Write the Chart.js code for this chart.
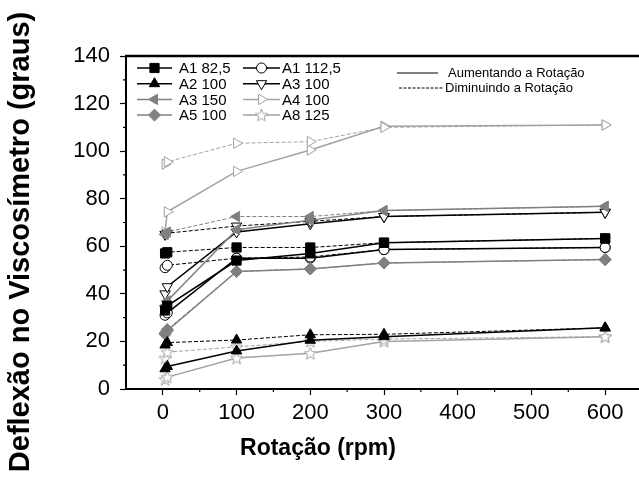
<!DOCTYPE html>
<html lang="pt">
<head>
<meta charset="utf-8">
<title>Deflexão no Viscosímetro</title>
<script src="https://cdn.jsdelivr.net/npm/chart.js@4.4.1/dist/chart.umd.min.js"></script>
<style>
  html, body { margin: 0; padding: 0; background: #fff; overflow: hidden; }
  #wrap { width: 660px; height: 478px; }
</style>
</head>
<body>
<div id="wrap"><canvas id="grafico" width="660" height="478"></canvas></div>
<script>
// Rotações do viscosímetro (rpm)
const rotacoes = [3, 6, 100, 200, 300, 600];

// Marcas dos eixos que levam texto
const ticksX = [0, 100, 200, 300, 400, 500, 600];
const ticksY = [0, 20, 40, 60, 80, 100, 120, 140];

// Leituras aumentando a rotação (linha cheia)
const a1_825_sobe = [33, 35, 54, 57, 61.5, 63.3];
const a1_1125_sobe = [31, 32, 55, 55, 58.6, 59.5];
const a2_100_sobe = [8.5, 9.5, 16, 20.5, 22, 25.7];
const a3_100_sobe = [40, 43, 66, 69.5, 72.5, 74.3];
const a3_150_sobe = [35, 37, 67, 71, 75, 76.8];
const a4_100_sobe = [66, 74.5, 91.5, 100.5, 110.5, 111];
const a5_100_sobe = [23, 24.5, 49.4, 50.5, 53, 54.4];
const a8_125_sobe = [4, 5, 13, 15, 20, 22];

// Leituras diminuindo a rotação (linha tracejada)
const a1_825_desce = [57, 57.5, 59.5, 59.5, 61.5, 63.3];
const a1_1125_desce = [51, 52, 55, 55.5, 58.6, 59.5];
const a2_100_desce = [18.5, 19.5, 20.6, 22.8, 23, 25.7];
const a3_100_desce = [65, 65.5, 68.5, 70.5, 72.5, 74.3];
const a3_150_desce = [65, 66, 72.5, 72.5, 75, 76.8];
const a4_100_desce = [94.5, 95.5, 103.3, 104, 110, 111];
const a5_100_desce = [23.5, 25, 49.4, 50.5, 53, 54.4];
const a8_125_desce = [13, 15.5, 17.7, 20, 21, 22];

// Nomes das amostras, na ordem da legenda (coluna 1 e depois coluna 2)
const amostras = ['A1 82,5', 'A2 100', 'A3 150', 'A5 100', 'A1 112,5', 'A3 100', 'A4 100', 'A8 125'];

const cinza = '#808080';
const cinzaClaro = '#a2a2a2';

// Estrela vazada de cinco pontas (o Chart.js não tem esse símbolo)
const estrela = document.createElement('canvas');
estrela.width = 15;
estrela.height = 15;
const cx = estrela.getContext('2d');
cx.beginPath();
for (let i = 0; i < 10; i++) {
    const r = i % 2 === 0 ? 6.5 : 2.8;
    const ang = -Math.PI / 2 + i * Math.PI / 5;
    const px = 7.5 + r * Math.cos(ang);
    const py = 8 + r * Math.sin(ang);
    if (i === 0) cx.moveTo(px, py); else cx.lineTo(px, py);
}
cx.closePath();
cx.fillStyle = '#fff';
cx.fill();
cx.strokeStyle = cinzaClaro;
cx.lineWidth = 1;
cx.stroke();

// Estilo de cada amostra: dados, cor da linha, símbolo
const estilos = {
    'A1 82,5':  { sobe: a1_825_sobe,  desce: a1_825_desce,  cor: '#000', fundo: '#000', simbolo: 'rect', raio: 6.5, rot: 0 },
    'A1 112,5': { sobe: a1_1125_sobe, desce: a1_1125_desce, cor: '#000', fundo: '#fff', simbolo: 'circle', raio: 5, rot: 0 },
    'A2 100':   { sobe: a2_100_sobe,  desce: a2_100_desce,  cor: '#000', fundo: '#000', simbolo: 'triangle', raio: 6, rot: 0 },
    'A3 100':   { sobe: a3_100_sobe,  desce: a3_100_desce,  cor: '#000', fundo: '#fff', simbolo: 'triangle', raio: 6, rot: 180 },
    'A3 150':   { sobe: a3_150_sobe,  desce: a3_150_desce,  cor: cinza, fundo: cinza, simbolo: 'triangle', raio: 6, rot: 270 },
    'A4 100':   { sobe: a4_100_sobe,  desce: a4_100_desce,  cor: cinzaClaro, fundo: '#fff', simbolo: 'triangle', raio: 6, rot: 90 },
    'A5 100':   { sobe: a5_100_sobe,  desce: a5_100_desce,  cor: cinza, fundo: cinza, simbolo: 'rectRot', raio: 6, rot: 0 },
    'A8 125':   { sobe: a8_125_sobe,  desce: a8_125_desce,  cor: cinzaClaro, fundo: '#fff', simbolo: estrela, raio: 6, rot: 0 }
};

// Monta um conjunto de dados (linha cheia ou tracejada)
const montaSerie = (nome, valores, tracejada) => {
    const e = estilos[nome];
    return {
        label: nome + (tracejada ? ' (diminuindo)' : ' (aumentando)'),
        data: rotacoes.map((x, i) => ({ x: x, y: valores[i] })),
        borderColor: e.cor,
        borderWidth: tracejada ? 1 : 1.5,
        borderDash: tracejada ? [4, 2] : [],
        pointStyle: e.simbolo,
        pointRadius: e.raio,
        pointRotation: e.rot,
        pointBackgroundColor: e.fundo,
        pointBorderColor: e.cor,
        pointBorderWidth: 1,
        tension: 0,
        fill: false
    };
};

const series = [];
amostras.forEach(nome => {
    series.push(montaSerie(nome, estilos[nome].desce, true));
    series.push(montaSerie(nome, estilos[nome].sobe, false));
});

const fonte = '"Liberation Sans", Arial, sans-serif';

// Plugin que desenha a borda de cima, os títulos, as marcas menores e a legenda
const decoracao = {
    id: 'decoracao',
    afterDraw: (chart) => {
        const ctx = chart.ctx;
        const area = chart.chartArea;
        const sx = chart.scales.x;
        const sy = chart.scales.y;
        ctx.save();

        // borda superior grossa
        ctx.strokeStyle = '#000';
        ctx.lineWidth = 2.5;
        ctx.beginPath();
        ctx.moveTo(area.left - 1, area.top);
        ctx.lineTo(area.right, area.top);
        ctx.stroke();

        // marcas menores (50 rpm e 10 graus)
        ctx.lineWidth = 1.2;
        ctx.beginPath();
        for (let v = 50; v <= 650; v += 100) {
            const px = sx.getPixelForValue(v);
            ctx.moveTo(px, area.bottom);
            ctx.lineTo(px, area.bottom + 3);
        }
        for (let v = 10; v <= 130; v += 20) {
            const py = sy.getPixelForValue(v);
            ctx.moveTo(area.left, py);
            ctx.lineTo(area.left - 3, py);
        }
        ctx.stroke();

        // títulos dos eixos
        ctx.fillStyle = '#000';
        ctx.textAlign = 'center';
        ctx.textBaseline = 'middle';
        ctx.font = 'bold 23px ' + fonte;
        ctx.fillText('Rotação (rpm)', 318, 449);
        ctx.save();
        ctx.translate(21, 242);
        ctx.rotate(-Math.PI / 2);
        ctx.font = 'bold 29px ' + fonte;
        ctx.fillText('Deflexão no Viscosímetro (graus)', 0, 0);
        ctx.restore();

        // legenda das amostras em duas colunas
        const colunas = [{ x0: 137, x1: 172, tx: 179 }, { x0: 243, x1: 280, tx: 282 }];
        ctx.textAlign = 'left';
        ctx.font = '15px ' + fonte;
        amostras.forEach((nome, i) => {
            const e = estilos[nome];
            const col = colunas[Math.floor(i / 4)];
            const y = 68 + (i % 4) * 15.7;
            ctx.strokeStyle = e.cor;
            ctx.lineWidth = 1.5;
            ctx.setLineDash([]);
            ctx.beginPath();
            ctx.moveTo(col.x0, y);
            ctx.lineTo(col.x1, y);
            ctx.stroke();
            ctx.fillStyle = e.fundo;
            ctx.lineWidth = 1;
            Chart.helpers.drawPoint(ctx, { pointStyle: e.simbolo, radius: e.raio, rotation: e.rot, borderWidth: 1 }, (col.x0 + col.x1) / 2, y);
            ctx.fillStyle = '#000';
            ctx.fillText(nome, col.tx, y + 1);
        });

        // legenda do tipo de linha
        ctx.font = '13px ' + fonte;
        ctx.strokeStyle = '#000';
        ctx.lineWidth = 1.2;
        ctx.beginPath();
        ctx.moveTo(397, 73);
        ctx.lineTo(438, 73);
        ctx.stroke();
        ctx.fillText('Aumentando a Rotação', 448, 73);
        ctx.lineWidth = 1;
        ctx.setLineDash([3, 1.5]);
        ctx.beginPath();
        ctx.moveTo(399, 88);
        ctx.lineTo(443, 88);
        ctx.stroke();
        ctx.setLineDash([]);
        ctx.fillText('Diminuindo a Rotação', 445, 88);

        ctx.restore();
    }
};

const ctx = document.getElementById('grafico').getContext('2d');
new Chart(ctx, {
    type: 'line',
    data: { datasets: series },
    options: {
        responsive: false,
        animation: false,
        layout: { padding: { top: 56, right: 18, left: 0, bottom: 0 } },
        plugins: { legend: { display: false }, tooltip: { enabled: false } },
        scales: {
            x: {
                type: 'linear',
                min: -50,
                max: 650,
                afterFit: (s) => { s.height = 89; },
                border: { color: '#000', width: 2 },
                grid: { drawOnChartArea: false, drawTicks: true, tickLength: 6, tickWidth: 1.2,
                    tickColor: (c) => ticksX.includes(c.tick.value) ? '#000' : 'rgba(0,0,0,0)' },
                ticks: {
                    stepSize: 50, autoSkip: false, maxRotation: 0, padding: 5, color: '#000',
                    font: { family: fonte, size: 22 },
                    callback: (v) => ticksX.includes(v) ? String(v) : ''
                }
            },
            y: {
                min: 0,
                max: 140,
                afterFit: (s) => { s.width = 126; },
                border: { color: '#000', width: 2 },
                grid: { drawOnChartArea: false, drawTicks: true, tickLength: 6, tickWidth: 1.2,
                    tickColor: (c) => ticksY.includes(c.tick.value) ? '#000' : 'rgba(0,0,0,0)' },
                ticks: {
                    stepSize: 10, autoSkip: false, padding: 10, color: '#000',
                    font: { family: fonte, size: 22 },
                    callback: (v) => ticksY.includes(v) ? String(v) : ''
                }
            }
        }
    },
    plugins: [decoracao]
});
</script>
</body>
</html>
